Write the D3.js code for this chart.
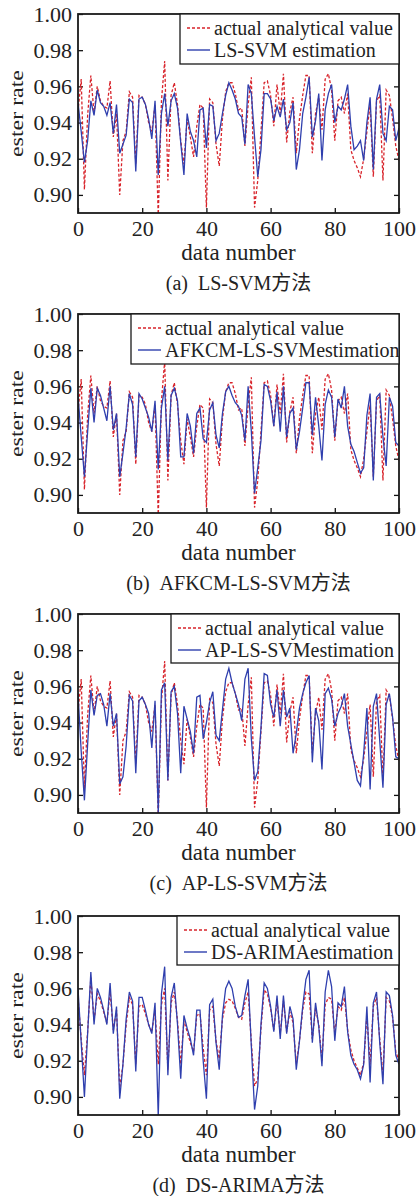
<!DOCTYPE html>
<html>
<head>
<meta charset="utf-8">
<script src="https://cdn.jsdelivr.net/npm/d3@7"></script>
<style>
	body { margin: 0; background: #fff; }
	svg { display: block; }
	.tick text { font-family: "Liberation Serif", serif; font-size: 22px; fill: #222; }
	.tick line { stroke: #111; stroke-width: 1.3; }
	.lbl { font-family: "Liberation Serif", serif; fill: #222; }
	.cap { font-family: "Liberation Serif", "Noto Sans CJK SC", serif; fill: #222; }
</style>
</head>
<body>
<svg></svg>
<script>
	// data number 0..100
	var dataNumber = d3.range(0, 101);
	var xTicks = [0, 20, 40, 60, 80, 100];
	var yTicks = [0.90, 0.92, 0.94, 0.96, 0.98, 1.00];

	// actual analytical value (panels a-c)
	var actual = [0.946,0.964,0.903,0.944,0.966,0.945,0.960,0.952,0.949,0.948,
		0.963,0.932,0.945,0.900,0.930,0.935,0.957,0.954,0.917,0.955,
		0.954,0.950,0.940,0.935,0.950,0.888,0.952,0.974,0.908,0.955,
		0.962,0.950,0.930,0.917,0.942,0.932,0.921,0.938,0.950,0.948,
		0.893,0.953,0.951,0.928,0.916,0.942,0.957,0.962,0.962,0.956,
		0.947,0.948,0.927,0.950,0.965,0.893,0.908,0.935,0.962,0.963,
		0.955,0.938,0.961,0.945,0.967,0.929,0.946,0.954,0.923,0.942,
		0.955,0.966,0.966,0.923,0.945,0.954,0.936,0.964,0.967,0.958,
		0.930,0.952,0.954,0.945,0.956,0.925,0.919,0.915,0.910,0.920,
		0.935,0.950,0.910,0.952,0.955,0.908,0.958,0.955,0.942,0.927,0.919];

	// actual analytical value as drawn in panel d
	var actualD = [0.955,0.932,0.912,0.936,0.966,0.942,0.957,0.953,0.947,0.941,
		0.958,0.937,0.948,0.905,0.918,0.940,0.955,0.951,0.918,0.950,
		0.951,0.946,0.940,0.936,0.948,0.918,0.951,0.960,0.915,0.952,
		0.958,0.942,0.918,0.942,0.936,0.930,0.925,0.945,0.946,0.927,
		0.912,0.948,0.950,0.931,0.921,0.943,0.952,0.954,0.953,0.949,
		0.944,0.943,0.952,0.958,0.930,0.906,0.910,0.938,0.959,0.957,
		0.949,0.937,0.953,0.935,0.953,0.936,0.947,0.941,0.918,0.931,
		0.948,0.958,0.957,0.932,0.949,0.940,0.920,0.951,0.955,0.954,
		0.935,0.950,0.948,0.955,0.937,0.926,0.920,0.916,0.912,0.919,
		0.945,0.918,0.950,0.955,0.932,0.912,0.955,0.953,0.944,0.925,0.920];

	var lssvm = [0.951,0.935,0.918,0.930,0.952,0.944,0.958,0.951,0.949,0.944,
		0.951,0.934,0.950,0.923,0.928,0.933,0.953,0.951,0.913,0.953,
		0.954,0.950,0.942,0.931,0.952,0.911,0.945,0.956,0.938,0.952,
		0.956,0.948,0.929,0.911,0.945,0.935,0.930,0.921,0.947,0.948,
		0.926,0.950,0.949,0.930,0.934,0.945,0.955,0.962,0.958,0.953,
		0.945,0.943,0.928,0.961,0.956,0.932,0.910,0.925,0.956,0.956,
		0.953,0.941,0.949,0.943,0.953,0.936,0.940,0.951,0.914,0.925,
		0.945,0.954,0.965,0.932,0.941,0.956,0.919,0.947,0.956,0.961,
		0.940,0.949,0.947,0.953,0.961,0.938,0.925,0.927,0.930,0.919,
		0.940,0.954,0.914,0.953,0.961,0.934,0.930,0.949,0.947,0.930,0.937];

	var afkcm = [0.955,0.932,0.910,0.935,0.959,0.940,0.959,0.955,0.948,0.941,
		0.960,0.936,0.945,0.910,0.923,0.937,0.956,0.950,0.921,0.956,
		0.953,0.948,0.943,0.935,0.952,0.914,0.948,0.960,0.919,0.955,
		0.959,0.952,0.921,0.921,0.945,0.938,0.923,0.945,0.948,0.931,
		0.929,0.947,0.951,0.933,0.926,0.945,0.957,0.960,0.955,0.951,
		0.949,0.944,0.930,0.960,0.935,0.901,0.915,0.930,0.961,0.960,
		0.952,0.938,0.957,0.935,0.960,0.932,0.945,0.948,0.925,0.935,
		0.948,0.962,0.962,0.933,0.954,0.938,0.919,0.950,0.958,0.954,
		0.932,0.953,0.948,0.960,0.938,0.928,0.924,0.918,0.912,0.915,
		0.944,0.956,0.908,0.954,0.956,0.932,0.916,0.954,0.949,0.929,0.927];

	var aplssvm = [0.956,0.924,0.897,0.928,0.958,0.944,0.955,0.956,0.950,0.938,
		0.956,0.938,0.945,0.906,0.910,0.927,0.955,0.952,0.912,0.952,
		0.954,0.950,0.945,0.926,0.952,0.890,0.958,0.962,0.908,0.957,
		0.960,0.945,0.912,0.949,0.942,0.935,0.923,0.954,0.955,0.931,
		0.940,0.951,0.957,0.933,0.930,0.947,0.964,0.970,0.962,0.956,
		0.950,0.941,0.964,0.970,0.931,0.908,0.913,0.937,0.967,0.966,
		0.950,0.943,0.958,0.938,0.958,0.943,0.948,0.923,0.934,0.948,
		0.956,0.962,0.966,0.918,0.948,0.941,0.914,0.956,0.959,0.953,
		0.938,0.945,0.949,0.956,0.938,0.928,0.918,0.908,0.905,0.923,
		0.948,0.903,0.949,0.956,0.930,0.904,0.950,0.956,0.943,0.921,0.920];

	var dsarima = [0.960,0.930,0.900,0.935,0.969,0.940,0.960,0.955,0.948,0.940,
		0.963,0.935,0.950,0.899,0.918,0.943,0.958,0.953,0.914,0.955,
		0.955,0.948,0.940,0.935,0.952,0.889,0.957,0.972,0.912,0.955,
		0.963,0.940,0.910,0.945,0.938,0.932,0.923,0.948,0.948,0.920,
		0.899,0.951,0.954,0.930,0.915,0.945,0.960,0.964,0.960,0.950,
		0.944,0.945,0.956,0.965,0.928,0.893,0.906,0.940,0.963,0.960,
		0.950,0.936,0.956,0.932,0.956,0.935,0.950,0.943,0.915,0.931,
		0.950,0.965,0.970,0.930,0.952,0.939,0.917,0.958,0.970,0.961,
		0.931,0.952,0.950,0.961,0.936,0.923,0.918,0.915,0.910,0.918,
		0.950,0.908,0.952,0.958,0.930,0.907,0.958,0.956,0.945,0.923,0.918];

	var actualLabel = "actual analytical value";
	var estLabels = ["LS-SVM estimation", "AFKCM-LS-SVMestimation", "AP-LS-SVMestimation", "DS-ARIMAestimation"];
	var captions = ["(a)\u2002LS-SVM\u65b9\u6cd5", "(b)\u2002AFKCM-LS-SVM\u65b9\u6cd5", "(c)\u2002AP-LS-SVM\u65b9\u6cd5", "(d)\u2002DS-ARIMA\u65b9\u6cd5"];

	var W = 420, H = 1196;
	var plotL = 78, plotW = 321, plotH = 199;
	var panelTops = [14, 314, 614, 916];
	// legend box left edge / height for each panel
	var legendBox = [ { x: 180, h: 50 }, { x: 131, h: 50 }, { x: 171, h: 49 }, { x: 177, h: 49 } ];
	var redColor = "#d8232a", blueColor = "#2f3fae";

	var svg = d3.select("svg").attr("width", W).attr("height", H);

	var xScale = d3.scaleLinear().domain([0, 100]).range([0, plotW]);
	var yScale = d3.scaleLinear().domain([0.89, 1.0]).range([plotH, 0]);

	var line = d3.line()
		.x(function (d, i){ return xScale(dataNumber[i]); })
		.y(function (d){ return yScale(d); });

	var estSeries = [lssvm, afkcm, aplssvm, dsarima];
	var actSeries = [actual, actual, actual, actualD];

	svg.append("defs").append("clipPath").attr("id", "clip")
		.append("rect").attr("width", plotW).attr("height", plotH);

	estSeries.forEach(function (est, p){
		var g = svg.append("g").attr("transform", "translate(" + plotL + "," + panelTops[p] + ")");

		// left axis, inward ticks
		g.append("g")
			.call(d3.axisLeft(yScale).tickValues(yTicks).tickFormat(d3.format(".2f")).tickSize(-5).tickPadding(6))
			.call(function (a){ a.select(".domain").remove(); });
		// right ticks
		g.append("g").attr("transform", "translate(" + plotW + ",0)")
			.call(d3.axisRight(yScale).tickValues(yTicks).tickFormat("").tickSize(-5))
			.call(function (a){ a.select(".domain").remove(); });
		// bottom axis
		g.append("g").attr("transform", "translate(0," + plotH + ")")
			.call(d3.axisBottom(xScale).tickValues(xTicks).tickFormat(d3.format("d")).tickSize(-5).tickPadding(7))
			.call(function (a){ a.select(".domain").remove(); });

		var plot = g.append("g").attr("clip-path", "url(#clip)");
		plot.append("path").datum(actSeries[p])
			.attr("d", line)
			.attr("fill", "none")
			.attr("stroke", redColor)
			.attr("stroke-width", 1.3)
			.attr("stroke-dasharray", "3,2");
		plot.append("path").datum(est)
			.attr("d", line)
			.attr("fill", "none")
			.attr("stroke", blueColor)
			.attr("stroke-width", 1.3);

		// frame
		g.append("rect").attr("width", plotW).attr("height", plotH)
			.attr("fill", "none").attr("stroke", "#1a1a1a").attr("stroke-width", 1.8);

		// legend
		var lb = legendBox[p];
		var lx = lb.x - plotL;
		var leg = g.append("g");
		leg.append("rect").attr("x", lx).attr("y", 0).attr("width", plotW - lx).attr("height", lb.h)
			.attr("fill", "#fff").attr("stroke", "#1a1a1a").attr("stroke-width", 1.3);
		var rows = [ { t: actualLabel, c: redColor, dash: "3,2" }, { t: estLabels[p], c: blueColor, dash: null } ];
		rows.forEach(function (r, i){
			var cy = 14 + i * 22;
			leg.append("line").attr("x1", lx + 7).attr("x2", lx + 30).attr("y1", cy).attr("y2", cy)
				.attr("stroke", r.c).attr("stroke-width", 1.4).attr("stroke-dasharray", r.dash);
			leg.append("text").attr("class", "lbl").attr("x", lx + 34).attr("y", cy + 6.5)
				.style("font-size", "20px").text(r.t);
		});

		// axis titles
		g.append("text").attr("class", "lbl")
			.attr("transform", "translate(" + (23 - plotL) + "," + (plotH / 2) + ") rotate(-90)")
			.attr("text-anchor", "middle").style("font-size", "19px")
			.attr("textLength", 87).attr("lengthAdjust", "spacingAndGlyphs")
			.text("ester rate");
		g.append("text").attr("class", "lbl")
			.attr("x", plotW / 2).attr("y", plotH + 47)
			.attr("text-anchor", "middle").style("font-size", "23px")
			.text("data number");
		g.append("text").attr("class", "cap")
			.attr("x", plotW / 2).attr("y", plotH + 77)
			.attr("text-anchor", "middle").style("font-size", "20px")
			.text(captions[p]);
	});
</script>
</body>
</html>
